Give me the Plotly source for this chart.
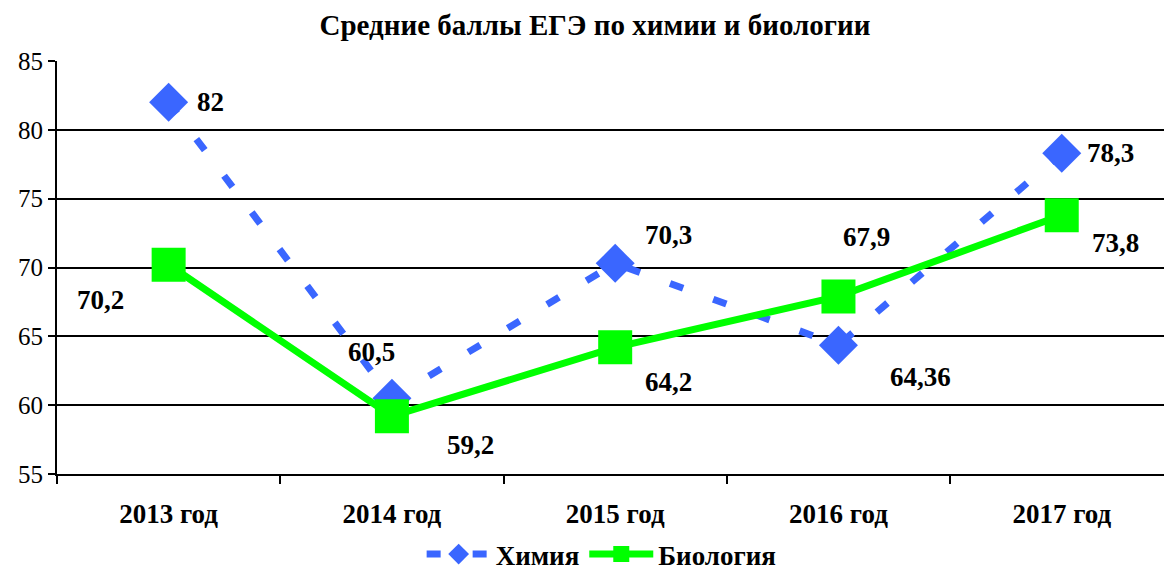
import plotly.graph_objects as go

years = ["2013 год", "2014 год", "2015 год", "2016 год", "2017 год"]
chem = [82, 60.5, 70.3, 64.36, 78.3]
bio = [70.2, 59.2, 64.2, 67.9, 73.8]
chem_labels = ["82", "60,5", "70,3", "64,36", "78,3"]
bio_labels = ["70,2", "59,2", "64,2", "67,9", "73,8"]
y_ticks = [55, 60, 65, 70, 75, 80, 85]

# label offsets (px) — style only
chem_off = [(42, 0), (-20, 46), (53, 28), (82, -32), (49, 0)]
bio_off = [(-68, -35), (79, -29), (53, -35), (28, 59), (54, -28)]

BLUE = "#3A66FF"
GREEN = "#00FF00"
SERIF = "Liberation Serif"

fig = go.Figure()
fig.add_trace(go.Scatter(
    x=years, y=chem, name="<b>Химия</b>", mode="lines+markers",
    line=dict(color=BLUE, width=7, dash="14px,32px"),
    marker=dict(symbol="diamond", size=30, color=BLUE),
))
fig.add_trace(go.Scatter(
    x=years, y=bio, name="<b>Биология</b>", mode="lines+markers",
    line=dict(color=GREEN, width=7),
    marker=dict(symbol="square", size=34, color=GREEN),
))

for xs, ys, labs, offs in [(years, chem, chem_labels, chem_off), (years, bio, bio_labels, bio_off)]:
    for x, y, t, (dx, dy) in zip(xs, ys, labs, offs):
        fig.add_annotation(x=x, y=y, text=f"<b>{t}</b>", showarrow=False,
                           xshift=dx, yshift=dy,
                           font=dict(family=SERIF, size=27, color="black"))

fig.update_layout(
    width=1164, height=571,
    margin=dict(l=57, r=0, t=61, b=97, autoexpand=False),
    paper_bgcolor="white", plot_bgcolor="white",
    title=dict(text="<b>Средние баллы ЕГЭ по химии и биологии</b>",
               x=595 / 1164, xanchor="center", y=1 - 25 / 571, yanchor="middle",
               font=dict(family=SERIF, size=29, color="black")),
    showlegend=True,
    legend=dict(orientation="h", x=0.492, xanchor="center", y=-0.195, yanchor="middle",
                font=dict(family=SERIF, size=27, color="black"),
                itemwidth=64, traceorder="normal"),
    font=dict(family=SERIF, color="black"),
)
fig.update_xaxes(
    type="category", range=[-0.5, 4.458], automargin=False,
    showline=True, linecolor="black", linewidth=2,
    ticks="outside", tickson="boundaries", ticklen=8, tickwidth=2, tickcolor="black",
    showgrid=False, ticklabelstandoff=15,
    tickfont=dict(family=SERIF, size=27, color="black"),
    tickvals=years, ticktext=[f"<b>{y}</b>" for y in years],
)
fig.update_yaxes(
    range=[55, 85], tickvals=y_ticks, automargin=False,
    showline=True, linecolor="black", linewidth=2,
    showgrid=True, gridcolor="black", gridwidth=2,
    ticks="outside", ticklen=7, tickwidth=2, tickcolor="black",
    tickfont=dict(family=SERIF, size=25, color="black"),
    zeroline=False,
)
fig.write_html("out.html", config={"displayModeBar": False},
               post_script="document.body.style.margin='0';document.body.style.overflow='hidden';")
